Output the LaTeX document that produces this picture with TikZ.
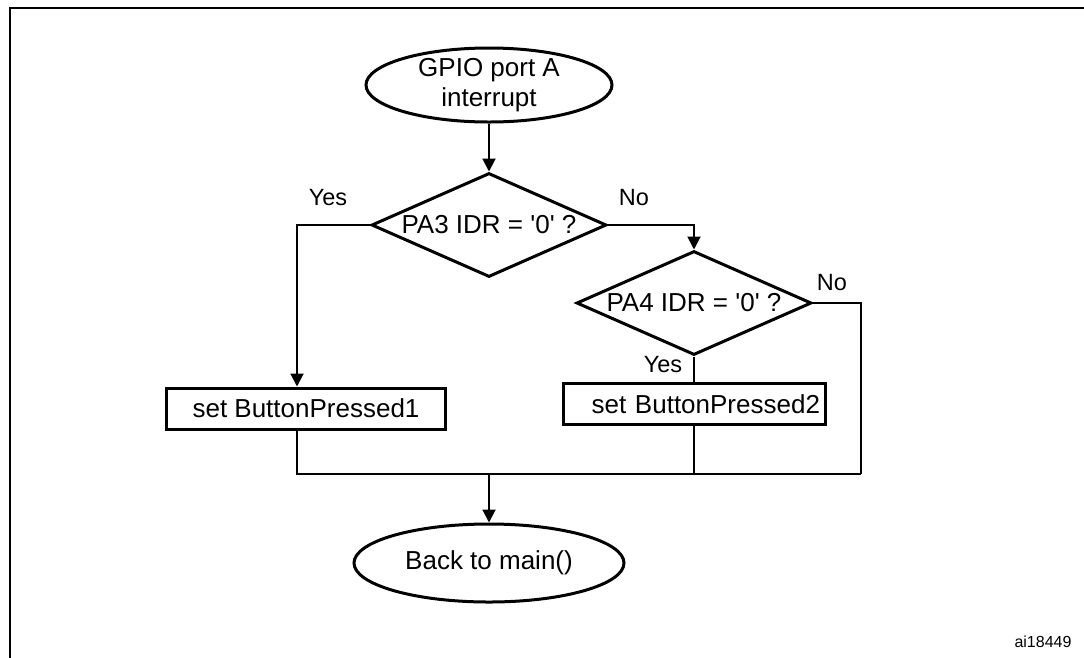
\documentclass[tikz,border=0pt]{standalone}
\usepackage{fontspec}
\setmainfont{Liberation Sans}
\usetikzlibrary{shapes.geometric, arrows.meta}
\begin{document}
\begin{tikzpicture}[x=1pt, y=-1pt,
  font=\fontsize{26}{30}\selectfont,
  outline/.style={draw, line width=3pt},
  term/.style={outline, ellipse, inner sep=0pt},
  test/.style={outline, diamond, inner sep=0pt, aspect=2.26,
               minimum width=235pt, minimum height=104pt},
  act/.style={outline, rectangle, minimum height=41pt, inner sep=0pt},
  link/.style={line width=2pt},
  arr/.style={link, -{Triangle[length=13pt, width=13pt]}},
  lbl/.style={font=\fontsize{23.5}{28}\selectfont, inner sep=0pt},
]
\useasboundingbox (0,0) rectangle (1084,657);
% figure frame
\draw[line width=2.5pt] (10,8) rectangle (1110,690);

% flow chart nodes
\node[term, minimum width=246pt, minimum height=74pt, inner ysep=-6pt,
      align=center] (start) at (489,85) {GPIO port A\\interrupt};
\node[test] (d1) at (489,225) {PA3 IDR = \textquotesingle0\textquotesingle\ ?};
\node[test] (d2) at (694,303) {PA4 IDR = \textquotesingle0\textquotesingle\ ?};
\node[act, minimum width=279pt] (b1) at (306,408.5) {set ButtonPressed1};
\node[act, text width=252pt, inner xsep=5pt, align=right] (b2) at (694,404)
      {set ButtonPressed2};
\node[term, minimum width=270pt, minimum height=78pt] (end) at (489,563)
      {Back to main()};

% routing points
\coordinate (yesx) at (297,225);
\coordinate (skip) at (861,474);
\coordinate (merge) at (489,474);

% connectors
\draw[arr] (start.south) -- (d1.north);
\draw[arr] (d1.west) -| (yesx |- b1.north);
\draw[arr] (d1.east) -| (d2.north);
\draw[link] (d2.south) -- (d2.south |- b2.north);
\draw[link] (d2.east) -| (skip);
\draw[link] (yesx |- b1.south) |- (skip);
\draw[link] (d2.south |- b2.south) -- (d2.south |- skip);
\draw[arr] (merge) -- (end.north);

% branch labels
\node[lbl] (yes1) at (328,198) {Yes};
\node[lbl] (no1) at (634,198) {No};
\node[lbl] (no2) at (832,283) {No};
\node[lbl] (yes2) at (663,365) {Yes};

\node[font=\fontsize{16}{19}\selectfont, inner sep=0pt] (ref) at (1043,642) {ai18449};
\end{tikzpicture}
\end{document}
